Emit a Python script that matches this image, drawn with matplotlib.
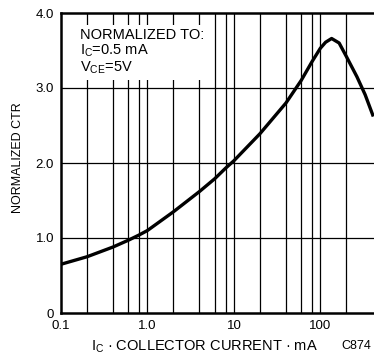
import matplotlib.pyplot as plt

plt.rcParams['font.family'] = ['Liberation Sans', 'DejaVu Sans']
plt.rcParams['mathtext.default'] = 'regular'

# curve
ic_ma = [0.1, 0.2, 0.4, 0.6, 0.8, 1.0, 2, 4, 6, 8, 10, 20, 40, 60, 80, 100,
         115, 135, 165, 200, 265, 330, 410]
ctr = [0.65, 0.75, 0.88, 0.97, 1.04, 1.10, 1.35, 1.62, 1.79, 1.93, 2.03, 2.39,
       2.80, 3.10, 3.35, 3.53, 3.61, 3.66, 3.60, 3.42, 3.15, 2.91, 2.62]

x_grid = [0.2, 0.4, 0.6, 0.8, 1, 2, 4, 6, 8, 10, 20, 40, 60, 80, 100, 200]
x_ticks = [0.1, 1, 10, 100]
x_ticklabels = ['0.1', '1.0', '10', '100']
y_ticks = [0, 1, 2, 3, 4]
y_ticklabels = ['0', '1.0', '2.0', '3.0', '4.0']

fig = plt.figure(figsize=(3.74, 3.56), dpi=100)
ax = fig.add_axes([61/374, 43/356, 313/374, 300/356])

ax.set_xscale('log')
ax.set_xlim(0.1, 10**(2 + 54/87))
ax.set_ylim(0, 4)

for v in x_grid:
    ax.axvline(v, color='black', lw=0.9, zorder=1)
for v in [1, 2, 3]:
    ax.axhline(v, color='black', lw=0.9, zorder=1)

ax.plot(ic_ma, ctr, color='black', lw=2.4, solid_joinstyle='round',
        solid_capstyle='butt', zorder=3)

ax.set_xticks(x_ticks)
ax.set_xticklabels(x_ticklabels)
ax.minorticks_off()
ax.set_yticks(y_ticks)
ax.set_yticklabels(y_ticklabels)
ax.tick_params(length=0, labelsize=9.5, pad=5)

for s in ['left', 'bottom', 'top']:
    ax.spines[s].set_linewidth(1.8)
ax.spines['right'].set_visible(False)

ax.text(0.168, 3.80,
        'NORMALIZED TO:\nI$_C$=0.5 mA\nV$_{CE}$=5V',
        fontsize=10.5, va='top', ha='left', linespacing=1.05, zorder=2,
        bbox=dict(facecolor='white', edgecolor='none', pad=3))

fig.text(18/374, 1 - 158/356, 'NORMALIZED CTR', rotation=90,
         ha='center', va='center', fontsize=9)
fig.text(204/374, 1 - 347/356, 'I$_C$ · COLLECTOR CURRENT · mA',
         ha='center', va='center', fontsize=10.5)
fig.text(371/374, 1 - 346/356, 'C874', ha='right', va='center', fontsize=9)

fig.savefig('out.png', dpi=100)
